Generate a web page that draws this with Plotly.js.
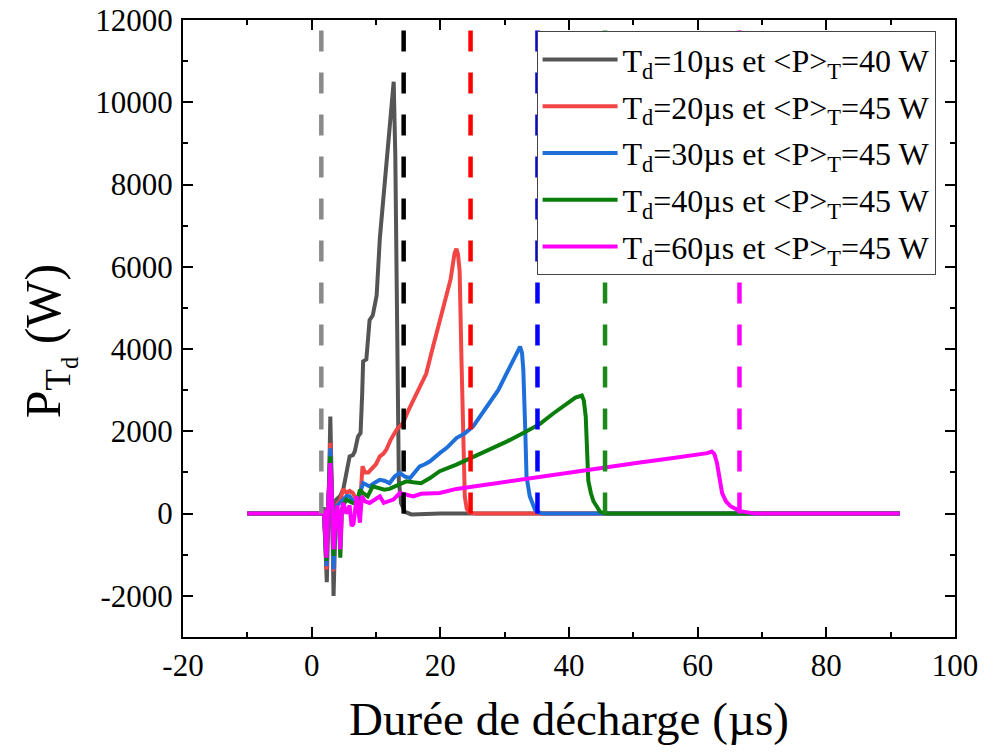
<!DOCTYPE html>
<html>
<head>
<meta charset="utf-8">
<script src="https://cdn.plot.ly/plotly-3.0.1.min.js"></script>
<style>
html,body{margin:0;padding:0;background:#fff;}
#chart{width:993px;height:753px;}
</style>
</head>
<body>
<div id="chart"></div>
<script>
// ---- data ----
var seriesNames = [
  'T<sub>d</sub>=10µs et &lt;P&gt;<sub>T</sub>=40 W',
  'T<sub>d</sub>=20µs et &lt;P&gt;<sub>T</sub>=45 W',
  'T<sub>d</sub>=30µs et &lt;P&gt;<sub>T</sub>=45 W',
  'T<sub>d</sub>=40µs et &lt;P&gt;<sub>T</sub>=45 W',
  'T<sub>d</sub>=60µs et &lt;P&gt;<sub>T</sub>=45 W'
];

var xTickVals = [-20, 0, 20, 40, 60, 80, 100];
var xTickText = ['-20', '0', '20', '40', '60', '80', '100'];
var yTickVals = [-2000, 0, 2000, 4000, 6000, 8000, 10000, 12000];
var yTickText = ['-2000', '0', '2000', '4000', '6000', '8000', '10000', '12000'];

var x10 = [-10, 1.6, 1.9, 2.35, 2.65, 2.9, 3.15, 3.4, 3.8, 4.4, 4.9, 5.4, 5.9, 6.4, 6.7, 7.2, 7.6, 7.85, 8.0, 8.5, 9.0, 9.5, 10.1, 10.6, 11.4, 11.9, 12.4, 12.75, 13.0, 13.2, 13.35, 13.55, 13.9, 14.5, 15.5, 17, 20, 91.4];
var y10 = [0, 0, 150, -1670, 200, 2360, 500, -2000, 340, 420, 580, 990, 1390, 1420, 1510, 1870, 1960, 2900, 3700, 3750, 4700, 4820, 5300, 6700, 8200, 8900, 9870, 10500, 8700, 5500, 2800, 800, 250, 40, -20, -10, 0, 0];

var x20 = [-10, 1.6, 1.9, 2.3, 2.6, 2.9, 3.15, 3.4, 3.7, 4.0, 4.4, 4.9, 5.4, 5.9, 6.4, 7.0, 7.5, 7.9, 8.3, 8.8, 9.5, 10.0, 10.6, 11.1, 11.6, 12.3, 13.2, 14.2, 15.0, 15.8, 16.8, 17.8, 18.6, 19.4, 20.2, 21.0, 21.6, 22.2, 22.5, 22.75, 23.0, 23.3, 23.55, 23.8, 24.1, 24.5, 25.5, 91.4];
var y20 = [0, 0, 100, -1360, 300, 1720, 400, -1400, -200, 250, 300, 600, 500, 550, 500, 300, 180, 1150, 1000, 1000, 1100, 1200, 1390, 1450, 1550, 1800, 2040, 2200, 2500, 2760, 3100, 3400, 3900, 4380, 4800, 5270, 5700, 6320, 6440, 6300, 5900, 3650, 1630, 420, 120, 30, 0, 0];

var x30 = [-10, 1.6, 1.9, 2.3, 2.6, 2.9, 3.15, 3.4, 3.7, 4.0, 4.4, 4.9, 5.4, 5.9, 6.4, 7.0, 7.5, 8.0, 8.5, 9.0, 9.8, 10.6, 11.3, 12.1, 12.9, 13.7, 14.5, 15.3, 16.0, 16.8, 17.6, 18.4, 19.9, 21.0, 22.5, 23.8, 25.1, 26.4, 27.7, 29.0, 30.3, 31.4, 32.1, 32.4, 32.7, 32.9, 33.2, 33.4, 33.9, 34.3, 34.7, 35.3, 36, 91.4];
var y30 = [0, 0, 100, -1280, 300, 1590, 400, -1360, -200, 200, 260, 350, 420, 420, 300, 180, 500, 740, 700, 660, 750, 820, 800, 740, 900, 990, 900, 865, 1000, 1150, 1200, 1270, 1470, 1600, 1835, 1950, 2120, 2400, 2680, 3000, 3410, 3750, 4000, 4060, 3900, 3490, 2040, 900, 420, 220, 100, 30, 0, 0];

var x40 = [-10, 1.6, 1.9, 2.3, 2.6, 2.9, 3.15, 3.4, 3.7, 4.0, 4.25, 4.45, 4.7, 4.9, 5.4, 5.9, 6.4, 7.0, 7.5, 8.0, 8.7, 9.5, 10.6, 11.3, 12.1, 12.9, 13.7, 14.7, 15.8, 17.0, 18.4, 19.9, 22.5, 25.1, 27.7, 30.3, 32.9, 35.5, 37.6, 39.6, 41.0, 42.0, 42.3, 42.6, 42.8, 43.0, 43.4, 43.8, 44.3, 44.8, 45.7, 47, 91.4];
var y40 = [0, 0, 100, -1150, 300, 1390, 400, -1030, -200, 100, -145, -1070, 100, 200, 340, 300, 260, 260, 580, 500, 420, 660, 600, 580, 600, 660, 700, 785, 760, 740, 865, 1030, 1190, 1370, 1550, 1750, 1960, 2180, 2440, 2650, 2820, 2870, 2750, 2360, 1230, 800, 500, 300, 180, 50, 0, 0, 0];

var x60 = [-10, 1.6, 1.9, 2.3, 2.6, 2.9, 3.15, 3.4, 3.7, 4.0, 4.2, 4.45, 4.7, 4.9, 5.4, 5.9, 6.2, 6.5, 7.0, 7.5, 7.8, 8.3, 9.0, 9.8, 10.6, 11.2, 12.0, 12.7, 13.7, 14.7, 15.8, 17.0, 18.4, 19.9, 22.5, 25.1, 30.3, 35.5, 40.7, 45.9, 51.0, 56.2, 60.0, 61.5, 62.2, 62.6, 63.0, 63.4, 63.8, 64.4, 65.1, 66.6, 69, 91.4];
var y60 = [0, 0, 100, -1070, 300, 1230, 400, -870, -200, 200, -100, -870, 50, 260, 0, 200, -300, -250, 420, -220, 420, 300, 260, 340, 420, 260, 300, 340, 500, 450, 420, 480, 500, 500, 600, 660, 780, 900, 1020, 1130, 1240, 1350, 1430, 1470, 1510, 1450, 1230, 900, 500, 300, 180, 60, 0, 0];

// vertical dashed markers (end of discharge), drawn from P=0 to P=12000
var markerX = [1.5, 14.3, 24.7, 35.1, 45.6, 66.5];
var markerY = [0, 12000];

// ---- styles ----
var seriesColors = ['#555555', '#f24646', '#1f6fdb', '#0b7d0b', '#ff00ff'];
var markerColors = ['#8a8a8a', '#000000', '#ff0000', '#0000ff', '#1b8a1b', '#ff00ff'];
var FONT = 'Liberation Serif';

var xs = [x10, x20, x30, x40, x60];
var ys = [y10, y20, y30, y40, y60];
var traces = [];
for (var i = 0; i < xs.length; i++) {
  traces.push({
    x: xs[i], y: ys[i], type: 'scatter', mode: 'lines', name: seriesNames[i],
    legendgroup: 'g' + i,
    line: {color: seriesColors[i], width: 4}
  });
}
for (var j = 0; j < markerX.length; j++) {
  traces.push({
    x: [markerX[j], markerX[j]], y: markerY, type: 'scatter', mode: 'lines',
    showlegend: false, hoverinfo: 'skip',
    line: {color: markerColors[j], width: 4.5, dash: '21px,21px'}
  });
}

var layout = {
  width: 993, height: 753,
  margin: {l: 183, r: 38, t: 20, b: 116, pad: 0},
  paper_bgcolor: '#ffffff', plot_bgcolor: '#ffffff',
  font: {family: FONT, size: 30},
  showlegend: true,
  legend: {
    x: 0.458, y: 0.982, xanchor: 'left', yanchor: 'top',
    bgcolor: '#ffffff', bordercolor: '#444444', borderwidth: 1,
    font: {family: FONT, size: 32, color: '#000'},
    itemwidth: 75, tracegroupgap: 2.2
  },
  xaxis: {
    range: [-20, 100], tickmode: 'array', tickvals: xTickVals, ticktext: xTickText,
    ticks: 'inside', ticklen: 10, tickwidth: 2, tickcolor: '#000',
    minor: {ticks: 'inside', ticklen: 5, tickwidth: 2, dtick: 10, tick0: 0, tickcolor: '#000'},
    showline: true, linewidth: 2, linecolor: '#000', mirror: 'ticks',
    showgrid: false, zeroline: false,
    tickfont: {family: FONT, size: 31, color: '#000'},
    title: {text: 'Durée de décharge (µs)', font: {family: FONT, size: 47, color: '#000'}, standoff: 20}
  },
  yaxis: {
    range: [-3000, 12000], tickmode: 'array', tickvals: yTickVals, ticktext: yTickText,
    ticks: 'inside', ticklen: 10, tickwidth: 2, tickcolor: '#000',
    minor: {ticks: 'inside', ticklen: 5, tickwidth: 2, dtick: 1000, tick0: 0, tickcolor: '#000'},
    showline: true, linewidth: 2, linecolor: '#000', mirror: 'ticks',
    showgrid: false, zeroline: false,
    tickfont: {family: FONT, size: 31, color: '#000'},
    ticklabelstandoff: 2,
    title: {text: 'P<sub>T<sub>d</sub></sub> (W)&nbsp;&nbsp;', font: {family: FONT, size: 50, color: '#000'}, standoff: 19}
  }
};

Plotly.newPlot('chart', traces, layout, {displayModeBar: false});
</script>
</body>
</html>
